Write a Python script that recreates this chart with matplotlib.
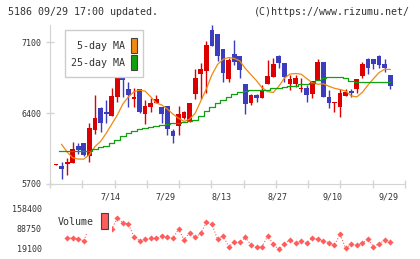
import numpy as np
import matplotlib.pyplot as plt
from matplotlib.patches import Rectangle
from matplotlib.transforms import blended_transform_factory

plt.rcParams['font.family'] = 'DejaVu Sans Mono'

# daily candles (61 trading days)
opens = [5888, 5880, 5894, 5910, 6075, 6101, 5976, 6232, 6452, 6413,
         6373, 6561, 6758, 6636, 6541, 6636, 6394, 6462, 6495, 6462,
         6469, 6226, 6272, 6348, 6325, 6588, 6784, 6817, 7218, 7185,
         7031, 6735, 6982, 6962, 6686, 6502, 6577, 6551, 6686, 6758,
         6962, 6890, 6683, 6683, 6636, 6646, 6587, 6725, 6906, 6561,
         6500, 6464, 6573, 6620, 6640, 6768, 6939, 6939, 6962, 6883,
         6775]
closes = [5898, 5850, 5920, 6045, 6035, 5986, 6252, 6351, 6305, 6387,
          6568, 6758, 6725, 6577, 6557, 6413, 6472, 6495, 6538, 6387,
          6239, 6178, 6390, 6410, 6499, 6748, 6831, 7070, 7063, 6962,
          6798, 6923, 6900, 6824, 6489, 6577, 6551, 6627, 6765, 6883,
          6896, 6761, 6735, 6745, 6646, 6577, 6715, 6906, 6561, 6495,
          6510, 6600, 6610, 6600, 6735, 6883, 6850, 6883, 6873, 6850,
          6670]
highs = [5898, 5920, 5960, 6114, 6101, 6105, 6298, 6577, 6462, 6528,
         6643, 6798, 6849, 6709, 6643, 6636, 6528, 6554, 6577, 6462,
         6469, 6240, 6469, 6420, 6499, 6831, 6890, 7116, 7268, 7185,
         7031, 6949, 7120, 6962, 6686, 6587, 6590, 6676, 6923, 6942,
         6972, 6890, 6775, 6775, 6742, 6676, 6715, 6932, 6906, 6627,
         6510, 6637, 6637, 6637, 6735, 6906, 6949, 6939, 6972, 6932,
         6775]
lows = [5888, 5746, 5792, 5910, 5996, 5976, 5920, 6196, 6218, 6298,
        6373, 6511, 6561, 6462, 6462, 6397, 6292, 6413, 6495, 6298,
        6183, 6107, 6183, 6338, 6315, 6535, 6544, 6594, 7063, 6916,
        6709, 6709, 6873, 6748, 6390, 6479, 6511, 6551, 6686, 6758,
        6850, 6709, 6627, 6660, 6604, 6511, 6554, 6725, 6561, 6455,
        6413, 6364, 6573, 6561, 6600, 6748, 6791, 6837, 6850, 6810,
        6637]

ma5 = [np.nan, 6091, 6015, 5959, 5946, 5946, 5990, 6070, 6120, 6200,
       6290, 6380, 6490, 6560, 6610, 6627, 6617, 6561, 6500, 6480,
       6440, 6390, 6350, 6318, 6340, 6400, 6520, 6640, 6780, 6880,
       6932, 6949, 6940, 6915, 6840, 6780, 6720, 6650, 6612, 6604,
       6665, 6745, 6785, 6791, 6785, 6742, 6700, 6685, 6690, 6665,
       6645, 6633, 6618, 6570, 6560, 6605, 6676, 6740, 6800, 6833,
       6831]
ma25 = [np.nan, 6025, 6025, 6025, 6025, 6025, 6028, 6050, 6062, 6075,
        6100, 6134, 6175, 6205, 6225, 6240, 6249, 6260, 6272, 6282,
        6292, 6300, 6305, 6312, 6320, 6331, 6370, 6420, 6458, 6500,
        6530, 6562, 6590, 6610, 6622, 6632, 6630, 6627, 6633, 6643,
        6652, 6660, 6666, 6672, 6686, 6690, 6699, 6725, 6745, 6758,
        6758, 6758, 6742, 6719, 6703, 6703, 6703, 6703, 6703, 6703,
        6703]

volume = [np.nan, np.nan, 58400, 56400, 53900, 47000, 100000, 120000, 95000, 100000,
          88700, 126000, 110700, 106000, 62000, 48000, 52900, 56400, 56400, 64400,
          59800, 56400, 88700, 50400, 75900, 59800, 73700, 112000, 105000, 52900,
          65400, 27100, 42400, 42400, 59800, 33000, 27100, 27100, 64400, 36500,
          18000, 36500, 50400, 39000, 48000, 41000, 56400, 52900, 47000, 41000,
          33000, 70300, 21500, 36500, 33000, 39000, 53900, 27100, 36500, 50400,
          44500]

date_pos = [10, 20, 30, 40, 50, 60]
date_labels = ['7/14', '7/29', '8/13', '8/27', '9/10', '9/29']
price_ticks = [5700, 6400, 7100]
vol_ticks = [19100, 88750, 158400]

W, H = 420, 259
fig = plt.figure(figsize=(W / 100, H / 100), dpi=100)

def box(x0, y0, x1, y1):
    return [x0 / W, 1 - y1 / H, (x1 - x0) / W, (y1 - y0) / H]

xlim = (-1.08, 62.66)
txt = '#333333'
grid = '#d4d4d4'
up, down = '#dd0000', '#3c3cbe'

ax = fig.add_axes(box(50, 25, 405, 184))
x = np.arange(len(opens))
o = np.array(opens); c = np.array(closes)
cols = [up if cc >= oo else down for oo, cc in zip(o, c)]
ax.vlines(x, lows, highs, colors=cols, lw=1, zorder=2)
bottoms = np.minimum(o, c)
heights = np.maximum(np.abs(c - o), 12)
ax.bar(x, heights, 0.85, bottom=bottoms, color=cols, zorder=3, linewidth=0)
ax.plot(x, ma5, color='#f08a10', lw=0.9, zorder=4)
ax.plot(x, ma25, color='#10a010', lw=0.9, zorder=4, drawstyle='steps-mid')
ax.set_xlim(*xlim)
ax.set_ylim(5700, 7270)
ax.set_xticks(np.linspace(xlim[0], xlim[1], 12))
ax.set_xticklabels([])
ax.set_yticks(price_ticks)
ax.set_yticklabels([str(t) for t in price_ticks], fontsize=6, color=txt)
ax.tick_params(axis='both', direction='inout', length=6, color=grid, width=1)
ax.tick_params(axis='y', pad=3)
for s in ['top', 'right']:
    ax.spines[s].set_visible(False)
for s in ['left', 'bottom']:
    ax.spines[s].set_color(grid)

tr = blended_transform_factory(ax.transData, fig.transFigure)
for p, lab in zip(date_pos, date_labels):
    ax.text(p - 0.3, 1 - 197 / H, lab, transform=tr, ha='center', va='center',
            fontsize=6, color=txt, clip_on=False)

# price legend
fig.add_artist(Rectangle((65 / W, 1 - 77 / H), 78 / W, 47 / H, transform=fig.transFigure,
                         facecolor='white', edgecolor='#cccccc', lw=1))
fig.text(125 / W, 1 - 46 / H, '5-day MA', ha='right', va='center', fontsize=7.2, color=txt)
fig.text(125 / W, 1 - 63 / H, '25-day MA', ha='right', va='center', fontsize=7.2, color=txt)
fig.add_artist(Rectangle((131 / W, 1 - 53 / H), 6 / W, 15 / H, transform=fig.transFigure,
                         facecolor='#f08a10', edgecolor='#444444', lw=0.8))
fig.add_artist(Rectangle((131 / W, 1 - 70 / H), 6 / W, 15 / H, transform=fig.transFigure,
                         facecolor='#10a010', edgecolor='#444444', lw=0.8))

# volume
vax = fig.add_axes(box(50, 205, 405, 255))
vax.plot(x, volume, color='#ff5c5c', lw=0.8, ls=':', marker='D', markersize=3.1,
         markeredgewidth=0)
vax.set_xlim(*xlim)
vax.set_ylim(-1800, 172300)
vax.set_xticks([])
vax.set_yticks(vol_ticks)
vax.set_yticklabels([str(t) for t in vol_ticks], fontsize=6, color=txt)
vax.tick_params(axis='y', length=0, pad=6)
for s in vax.spines.values():
    s.set_visible(False)

fig.add_artist(Rectangle((54 / W, 1 - 234 / H), 58 / W, 24 / H, transform=fig.transFigure,
                         facecolor='white', edgecolor='none'))
fig.text(58 / W, 1 - 222 / H, 'Volume', ha='left', va='center', fontsize=7.2, color=txt)
fig.add_artist(Rectangle((101 / W, 1 - 229 / H), 7 / W, 16 / H, transform=fig.transFigure,
                         facecolor='#ff5c5c', edgecolor='#444444', lw=0.8))

fig.text(8 / W, 1 - 12 / H, '5186 09/29 17:00 updated.', ha='left', va='center',
         fontsize=7.2, color=txt)
fig.text(410 / W, 1 - 12 / H, '(C)https://www.rizumu.net/', ha='right', va='center',
         fontsize=7.2, color=txt)

fig.savefig('out.png', dpi=100, facecolor='white')
